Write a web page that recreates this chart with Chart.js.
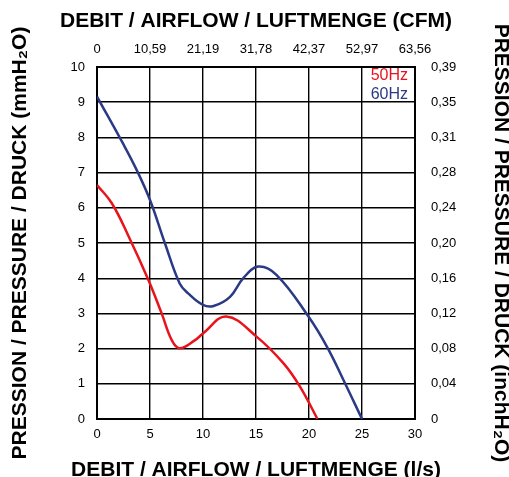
<!DOCTYPE html>
<html>
<head>
<meta charset="utf-8">
<script src="https://cdn.jsdelivr.net/npm/chart.js@4.4.0/dist/chart.umd.min.js"></script>
<style>
  body { margin: 0; background: #fff; }
  #wrap { width: 509px; height: 477px; }
</style>
</head>
<body>
<div id="wrap"><canvas id="fanChart" width="509" height="477"></canvas></div>
<script>
// airflow (l/s) vs pressure (mmH2O)
var flow50 = [0, 1.4, 3, 4.85, 6.1, 7.05, 7.8, 9.25, 10, 12.2, 15.05, 17.6, 19.15, 20.8];
var press50 = [6.65, 6.13, 5.18, 3.95, 3.0, 2.24, 2.01, 2.24, 2.43, 2.91, 2.34, 1.58, 0.92, 0];
var flow60 = [0, 2.5, 3.75, 5, 6.4, 7.8, 8.6, 10, 11, 12.55, 13.8, 15.2, 16.95, 19.95, 21.7, 23.25, 25];
var press60 = [9.16, 7.8, 7.07, 6.22, 5.0, 3.85, 3.57, 3.24, 3.21, 3.47, 4.0, 4.33, 4.09, 2.91, 2.05, 1.11, 0];
var cfmLabels = ['0', '10,59', '21,19', '31,78', '42,37', '52,97', '63,56'];
var inchLabels = ['0', '0,04', '0,08', '0,12', '0,16', '0,20', '0,24', '0,28', '0,31', '0,35', '0,39'];
var topTitle = 'DEBIT / AIRFLOW / LUFTMENGE (CFM)';
var bottomTitle = 'DEBIT / AIRFLOW / LUFTMENGE (l/s)';

var FONT = '"Liberation Sans", Arial, sans-serif';

function pts(xs, ys) {
    return xs.map(function (x, i) { return {x: x, y: ys[i]}; });
}

// series names inside the top-right corner + the two horizontal titles
// (chart.js squeezes horizontal axis titles to the axis width, so draw them here)
var extras = {
    id: 'extras',
    afterDatasetsDraw: function (chart) {
        var ctx = chart.ctx, area = chart.chartArea;
        ctx.save();
        ctx.font = '16px ' + FONT;
        ctx.textAlign = 'right';
        ctx.textBaseline = 'middle';
        chart.data.datasets.forEach(function (ds, i) {
            ctx.fillStyle = ds.borderColor;
            ctx.fillText(ds.label, area.right - 7, area.top + 9 + i * 18.6);
        });
        ctx.font = 'bold 21px ' + FONT;
        ctx.fillStyle = '#000';
        ctx.textAlign = 'center';
        ctx.textBaseline = 'alphabetic';
        var cx = (area.left + area.right) / 2;
        ctx.fillText(topTitle, cx, 27);
        ctx.fillText(bottomTitle, cx, 476);
        ctx.restore();
    }
};

var tickFont = {family: FONT, size: 13};
var titleFont = {family: FONT, size: 21, weight: 'bold'};

new Chart(document.getElementById('fanChart'), {
    type: 'line',
    data: {
        datasets: [{
            label: '50Hz',
            data: pts(flow50, press50),
            borderColor: '#e8141c',
            borderWidth: 2.5,
            pointRadius: 0,
            tension: 0.4,
            xAxisID: 'x', yAxisID: 'y'
        }, {
            label: '60Hz',
            data: pts(flow60, press60),
            borderColor: '#2b3a84',
            borderWidth: 2.5,
            pointRadius: 0,
            tension: 0.4,
            xAxisID: 'x', yAxisID: 'y'
        }]
    },
    options: {
        responsive: false,
        animation: false,
        layout: {padding: 0},
        plugins: {legend: {display: false}, tooltip: {enabled: false}},
        scales: {
            x: {
                type: 'linear', position: 'bottom', min: 0, max: 30,
                afterFit: function (s) { s.height = 58; },
                ticks: {stepSize: 5, color: '#000', font: tickFont, padding: 8, maxRotation: 0},
                grid: {color: '#000', lineWidth: 1.4, drawTicks: false},
                border: {color: '#000', width: 2}
            },
            x2: {
                type: 'linear', position: 'top', min: 0, max: 30,
                afterFit: function (s) { s.height = 67; },
                ticks: {stepSize: 5, color: '#000', font: tickFont, padding: 10, maxRotation: 0,
                    callback: function (v, i) { return cfmLabels[i]; }},
                grid: {display: false, drawTicks: false},
                border: {color: '#000', width: 2}
            },
            y: {
                type: 'linear', position: 'left', min: 0, max: 10,
                afterFit: function (s) { s.width = 97; },
                ticks: {stepSize: 1, color: '#000', font: tickFont, padding: 12},
                grid: {color: '#000', lineWidth: 1.4, drawTicks: false},
                border: {color: '#000', width: 2},
                title: {display: true, text: 'PRESSION / PRESSURE / DRUCK (mmH₂O)', color: '#000', font: titleFont, padding: {top: 8, bottom: 0}}
            },
            y2: {
                type: 'linear', position: 'right', min: 0, max: 10,
                afterFit: function (s) { s.width = 94; },
                ticks: {stepSize: 1, color: '#000', font: tickFont, padding: 16,
                    callback: function (v, i) { return inchLabels[i]; }},
                grid: {display: false, drawTicks: false},
                border: {color: '#000', width: 2},
                title: {display: true, text: 'PRESSION / PRESSURE / DRUCK (inchH₂O)', color: '#000', font: titleFont, padding: {top: -4, bottom: 0}}
            }
        }
    },
    plugins: [extras]
});
</script>
</body>
</html>
